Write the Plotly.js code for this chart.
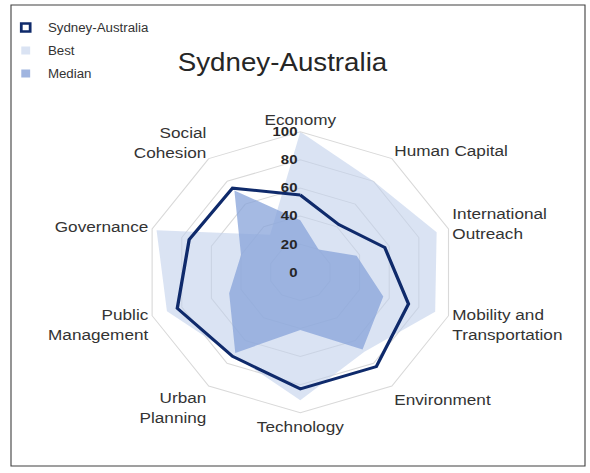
<!DOCTYPE html>
<html><head><meta charset="utf-8">
<script src="https://cdn.plot.ly/plotly-3.0.1.min.js"></script>
<style>
html,body{margin:0;padding:0;background:#fff;overflow:hidden;}
#wrap{width:590px;height:473px;overflow:hidden;position:relative;}
#chart{width:532px;height:473px;transform:scaleX(1.10902);transform-origin:0 0;}
</style></head><body>
<div id="wrap"><div id="chart"></div></div>
<script>
// Data
const categories = ['Economy', 'Human Capital', 'International<br>Outreach', 'Mobility and<br>Transportation',
  'Environment', 'Technology', 'Urban<br>Planning', 'Public<br>Management', 'Governance', 'Social<br>Cohesion'];
const sydney = [55, 42, 57, 73, 83, 83, 74, 83, 75, 74];
const best   = [100, 80, 92, 91, 70, 91, 73, 90, 97, 33];
const median = [37, 20, 38, 56, 68, 41, 71, 48, 40, 72];
const radialTicks = [0, 20, 40, 60, 80, 100];
const seriesNames = ['Sydney-Australia', 'Best', 'Median'];
const chartTitle = 'Sydney-Australia';

const closeR = a => a.concat([a[0]]);
const theta = closeR(categories);

const navy = '#0f2a6b';
const bestFill = 'rgba(193,208,235,0.6)';
const bestSolid = '#dae3f3';
const medFill = 'rgba(135,163,218,0.75)';
const medSolid = '#a0b5e0';
const font = 'Liberation Sans, Arial, sans-serif';

const traces = [
  {type:'scatterpolar', r: closeR(best), theta: theta, mode:'lines', fill:'toself',
   fillcolor: bestFill, line:{width:0, color:'rgba(0,0,0,0)'}, name: seriesNames[1], showlegend:false, hoverinfo:'skip'},
  {type:'scatterpolar', r: closeR(median), theta: theta, mode:'lines', fill:'toself',
   fillcolor: medFill, line:{width:0, color:'rgba(0,0,0,0)'}, name: seriesNames[2], showlegend:false, hoverinfo:'skip'},
  {type:'scatterpolar', r: closeR(sydney), theta: theta, mode:'lines',
   line:{width:3, color: navy}, name: seriesNames[0], showlegend:false, hoverinfo:'skip'},
  // legend keys
  {type:'scatterpolar', r:[null], theta:[categories[0]], mode:'markers', name: seriesNames[0], legendgroup:'a',
   marker:{symbol:'square', size:8, color:'#ffffff', line:{color: navy, width:2.5}}},
  {type:'scatterpolar', r:[null], theta:[categories[0]], mode:'markers', name: seriesNames[1], legendgroup:'b',
   marker:{symbol:'square', size:8, color: bestSolid, line:{width:0}}},
  {type:'scatterpolar', r:[null], theta:[categories[0]], mode:'markers', name: seriesNames[2], legendgroup:'c',
   marker:{symbol:'square', size:8, color: medSolid, line:{width:0}}}
];

const layout = {
  width: 532, height: 473,
  margin:{l:0, r:0, t:0, b:0, pad:0},
  paper_bgcolor:'#ffffff', plot_bgcolor:'#ffffff',
  font:{family: font, color:'#333333'},
  title:{text: chartTitle, font:{family: font, size:25, color:'#262626'},
         x: 282.5/590, xanchor:'center', xref:'paper', y: 1 - 62/473, yanchor:'middle', yref:'container'},
  showlegend:true,
  legend:{x: 0.006, xanchor:'left', y: 1 - 13/473, yanchor:'top', bgcolor:'rgba(0,0,0,0)',
          font:{family: font, size:12, color:'#333333'}, traceorder:'grouped', tracegroupgap:4, itemwidth:30},
  polar:{
    domain:{x:[0.2446, 0.7734], y:[0.1273, 0.7214]},
    bgcolor:'rgba(0,0,0,0)',
    gridshape:'linear',
    angularaxis:{rotation:90, direction:'clockwise', showgrid:false, showline:true,
                 linecolor:'#d9d9d9', linewidth:1, ticks:'', tickfont:{family: font, size:15.5, color:'#333333'}},
    radialaxis:{range:[0,100], tickvals: radialTicks, ticktext: radialTicks.map(String), angle:90, side:'counterclockwise',
                tickangle:90, showline:false, ticks:'', gridcolor:'#d9d9d9', gridwidth:1,
                tickfont:{family: font, size:13.5, color:'#262626', weight:'bold'}}
  },
  shapes:[{type:'rect', xref:'paper', yref:'paper', x0: 11/590, x1: 585/590, y0: 1 - 466/473, y1: 1 - 5/473,
           line:{color:'#404040', width:1}, fillcolor:'rgba(0,0,0,0)'}]
};

Plotly.newPlot('chart', traces, layout, {displayModeBar:false, staticPlot:true});
</script>
</body></html>
